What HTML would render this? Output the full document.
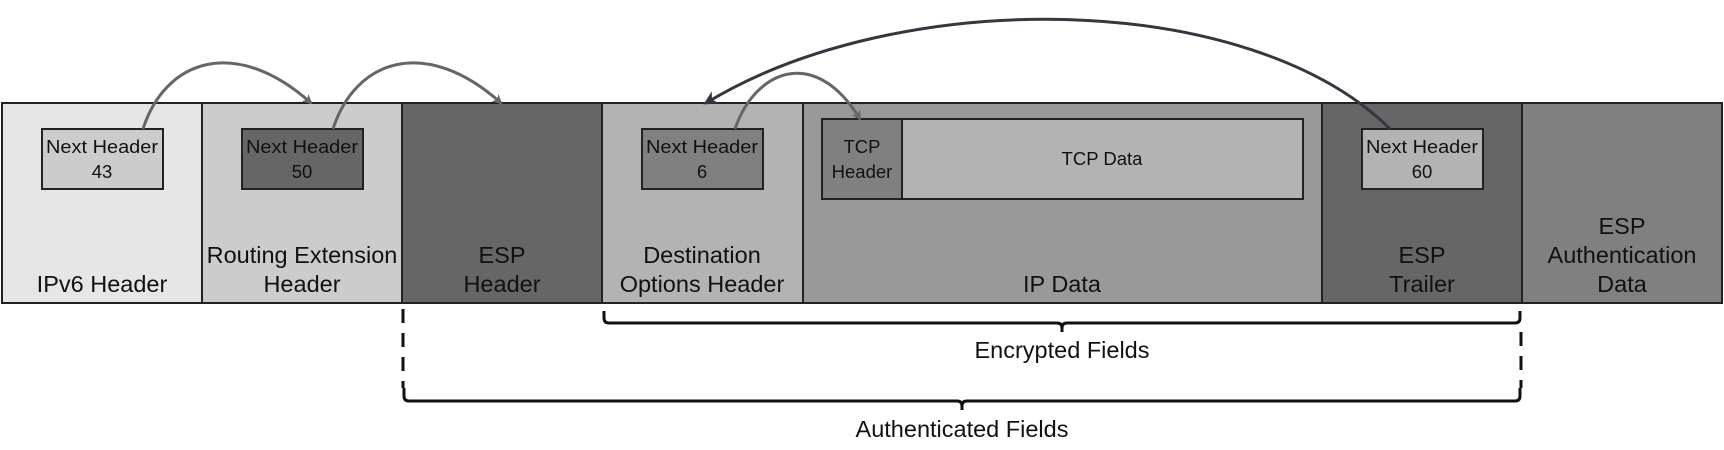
<!DOCTYPE html>
<html><head><meta charset="utf-8"><style>
body{margin:0;background:#fff;}
svg{display:block;font-family:"Liberation Sans",sans-serif;}
</style></head><body>
<svg width="1724" height="450" viewBox="0 0 1724 450" xmlns="http://www.w3.org/2000/svg">
<defs>
<marker id="ag" markerWidth="10" markerHeight="10" refX="8" refY="5" orient="auto" markerUnits="userSpaceOnUse"><path d="M0,0 L10,5 L0,10 L3,5 Z" fill="#666"/></marker>
<marker id="ad" markerWidth="14" markerHeight="14" refX="11" refY="7" orient="auto" markerUnits="userSpaceOnUse"><path d="M0,0 L14,7 L0,14 L4,7 Z" fill="#333840"/></marker>
</defs>
<g stroke="#222" stroke-width="2">
<rect x="2" y="103" width="200" height="200" fill="#e6e6e6"/>
<rect x="202" y="103" width="200" height="200" fill="#cccccc"/>
<rect x="402" y="103" width="200" height="200" fill="#666666"/>
<rect x="602" y="103" width="201" height="200" fill="#b3b3b3"/>
<rect x="803" y="103" width="519" height="200" fill="#999999"/>
<rect x="1322" y="103" width="200" height="200" fill="#666666"/>
<rect x="1522" y="103" width="200" height="200" fill="#808080"/>
<rect x="42" y="129" width="121" height="60" fill="#cccccc"/>
<rect x="242" y="129" width="121" height="60" fill="#666666"/>
<rect x="642" y="129" width="121" height="60" fill="#808080"/>
<rect x="1362" y="129" width="121" height="60" fill="#b3b3b3"/>
<rect x="822" y="119" width="80" height="80" fill="#808080"/>
<rect x="902" y="119" width="401" height="80" fill="#b3b3b3"/>
</g>
<g font-size="18.5" text-anchor="middle" fill="#111">
<text x="102" y="153" textLength="112" lengthAdjust="spacingAndGlyphs">Next Header</text><text x="102" y="178">43</text>
<text x="302" y="153" textLength="112" lengthAdjust="spacingAndGlyphs">Next Header</text><text x="302" y="178">50</text>
<text x="702" y="153" textLength="112" lengthAdjust="spacingAndGlyphs">Next Header</text><text x="702" y="178">6</text>
<text x="1422" y="153" textLength="112" lengthAdjust="spacingAndGlyphs">Next Header</text><text x="1422" y="178">60</text>
<text x="862" y="153">TCP</text><text x="862" y="178">Header</text>
<text x="1102" y="165">TCP Data</text>
</g>
<g font-size="23.5" text-anchor="middle" fill="#111">
<text x="102" y="292">IPv6 Header</text>
<text x="302" y="263">Routing Extension</text><text x="302" y="292">Header</text>
<text x="502" y="263">ESP</text><text x="502" y="292">Header</text>
<text x="702" y="263">Destination</text><text x="702" y="292">Options Header</text>
<text x="1062" y="292">IP Data</text>
<text x="1422" y="263">ESP</text><text x="1422" y="292">Trailer</text>
<text x="1622" y="234">ESP</text><text x="1622" y="263">Authentication</text><text x="1622" y="292">Data</text>
<text x="1062" y="358">Encrypted Fields</text>
<text x="962" y="437">Authenticated Fields</text>
</g>
<g fill="none" stroke="#666" stroke-width="3">
<path d="M143 129 C 165 60, 235 35, 311 103" marker-end="url(#ag)"/>
<path d="M333 129 C 355 60, 425 35, 501 103" marker-end="url(#ag)"/>
<path d="M735 129 C 755 70, 815 45, 860 119" marker-end="url(#ag)"/>
</g>
<path d="M1390 129 C 1250 -10, 900 -15, 706 103" fill="none" stroke="#333840" stroke-width="3" marker-end="url(#ad)"/>
<g fill="none" stroke="#111" stroke-width="3">
<path d="M604 311 v7 q0 5 5 5 H1057 q5 0 5 5 v4 M1062 328 q0 -5 5 -5 H1515 q5 0 5 -5 v-7"/>
<path d="M404 388 v8 q0 5 5 5 H957 q5 0 5 5 v4 M962 406 q0 -5 5 -5 H1515 q5 0 5 -5 v-8"/>
<path d="M403 309 V388 M1521 332 V388" stroke-dasharray="14,10"/>
</g>
</svg>
</body></html>
